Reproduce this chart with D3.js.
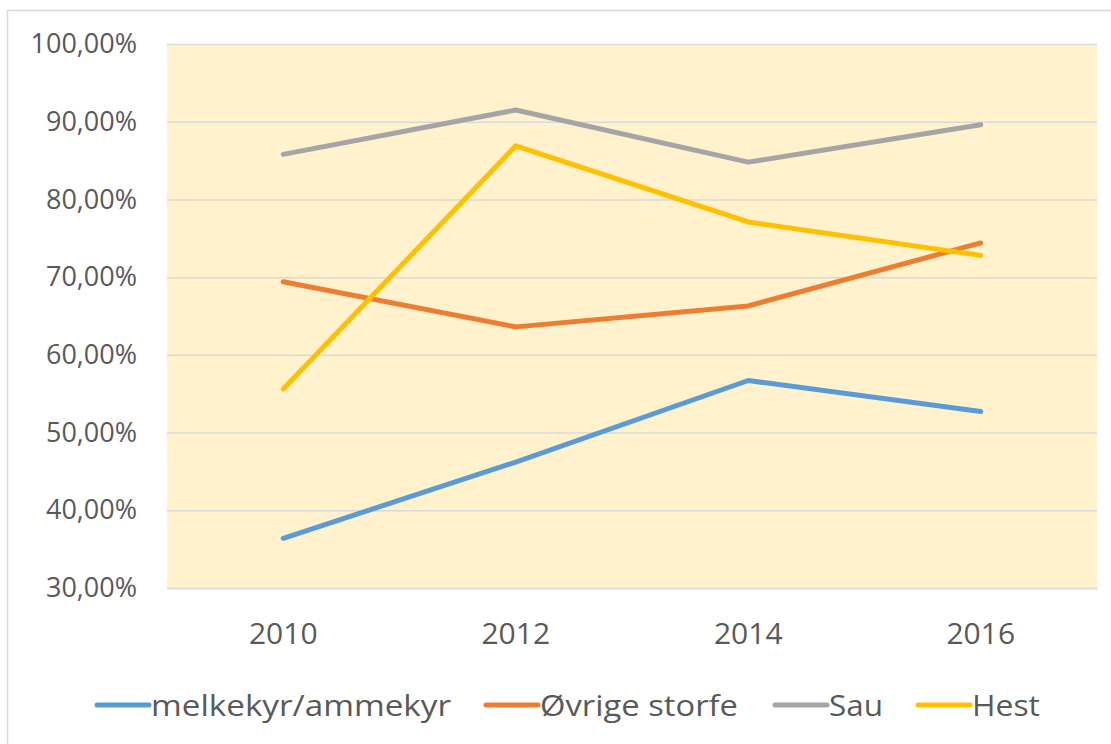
<!DOCTYPE html>
<html>
<head>
<meta charset="utf-8">
<script src="https://cdn.jsdelivr.net/npm/d3@7"></script>
<style>
  body { margin: 0; background: #fff; }
  svg { display: block; }
  svg text { font-family: "Open Sans", "Noto Sans", sans-serif; }
</style>
</head>
<body>
<div class="line-chart-container"></div>
<script>
const years = ['2010', '2012', '2014', '2016'];
const seriesNames = ['melkekyr/ammekyr', 'Øvrige storfe', 'Sau', 'Hest'];
const melkekyr = [0.364, 0.462, 0.567, 0.527];
const ovrigeStorfe = [0.694, 0.636, 0.663, 0.744];
const sau = [0.858, 0.915, 0.848, 0.896];
const hest = [0.556, 0.869, 0.771, 0.728];
const yTicks = [0.3, 0.4, 0.5, 0.6, 0.7, 0.8, 0.9, 1.0];
const colors = ['#5B9BD5', '#ED7D31', '#A5A5A5', '#FFC000'];

const width = 1111;
const height = 744;
const plot = { left: 167, right: 1097, top: 44, bottom: 588 };

const series = [melkekyr, ovrigeStorfe, sau, hest].map((values, i) => ({
  name: seriesNames[i],
  color: colors[i],
  values: values
}));

const no = d3.formatLocale({ decimal: ',', thousands: ' ', grouping: [3], currency: ['', ' kr'] });
const pct = no.format('.2%');

const svg = d3.select('.line-chart-container')
  .append('svg')
  .attr('width', width)
  .attr('height', height);

// outer chart frame (extends past the window on the right and bottom)
svg.append('rect')
  .attr('x', 7.5)
  .attr('y', 10.5)
  .attr('width', 1200)
  .attr('height', 800)
  .attr('fill', '#fff')
  .attr('stroke', '#D9D9D9')
  .attr('stroke-width', 1.5);

const x = d3.scaleBand()
  .domain(years)
  .range([plot.left, plot.right])
  .padding(0);

const y = d3.scaleLinear()
  .domain([0.3, 1.0])
  .range([plot.bottom, plot.top]);

// plot area background
svg.append('rect')
  .attr('x', plot.left)
  .attr('y', plot.top)
  .attr('width', plot.right - plot.left)
  .attr('height', plot.bottom - plot.top)
  .attr('fill', '#FFF2CC');

// y axis with gridlines
const yAxis = svg.append('g')
  .attr('transform', `translate(${plot.left}, 0)`)
  .call(d3.axisLeft(y)
    .tickValues(yTicks)
    .tickSize(-(plot.right - plot.left))
    .tickPadding(30)
    .tickFormat(pct));

yAxis.select('.domain').remove();
yAxis.selectAll('.tick line')
  .attr('stroke', '#D9D9D9')
  .attr('stroke-width', 1.5);
yAxis.selectAll('.tick text')
  .attr('fill', '#595959')
  .style('font-size', '27px');

// x axis
const xAxis = svg.append('g')
  .attr('transform', `translate(0, ${plot.bottom})`)
  .call(d3.axisBottom(x).tickSize(0).tickPadding(35));

xAxis.select('.domain')
  .attr('stroke', '#D9D9D9')
  .attr('stroke-width', 1.5);
xAxis.selectAll('.tick text')
  .attr('fill', '#595959')
  .style('font-size', '30px');

// lines
const line = d3.line()
  .x((d, i) => x(years[i]) + x.bandwidth() / 2)
  .y(d => y(d));

svg.selectAll('.series')
  .data(series)
  .enter()
  .append('path')
  .attr('class', 'series')
  .attr('d', d => line(d.values))
  .attr('fill', 'none')
  .attr('stroke', d => d.color)
  .attr('stroke-width', 5)
  .attr('stroke-linecap', 'round')
  .attr('stroke-linejoin', 'round');

// legend
const legendX = [97, 486, 775, 918];
const legendTextWidth = [300, 198, 54, 68];
const legend = svg.selectAll('.legend')
  .data(series)
  .enter()
  .append('g')
  .attr('class', 'legend')
  .attr('transform', (d, i) => `translate(${legendX[i]}, 705)`);

legend.append('line')
  .attr('x1', 0)
  .attr('x2', 52)
  .attr('stroke', d => d.color)
  .attr('stroke-width', 5)
  .attr('stroke-linecap', 'round');

legend.append('text')
  .attr('x', 54)
  .attr('dy', '0.35em')
  .attr('fill', '#595959')
  .attr('textLength', (d, i) => legendTextWidth[i])
  .attr('lengthAdjust', 'spacingAndGlyphs')
  .style('font-size', '30px')
  .text(d => d.name);
</script>
</body>
</html>
